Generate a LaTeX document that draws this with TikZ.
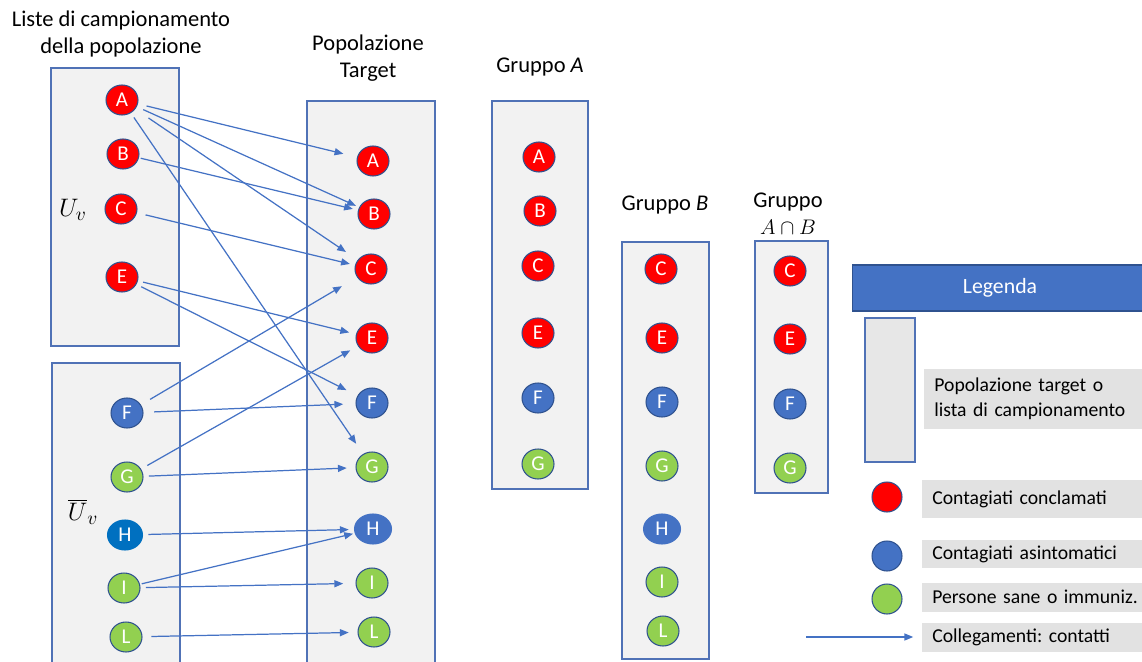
\documentclass[tikz,border=0pt]{standalone}
\usepackage{fontspec}
\setmainfont{Carlito}
\frenchspacing
\usetikzlibrary{shapes.geometric,arrows.meta}
\definecolor{boxline}{RGB}{80,114,182}
\definecolor{boxgrey}{RGB}{242,242,242}
\definecolor{nodeline}{RGB}{47,82,143}
\definecolor{asblue}{RGB}{68,114,196}
\definecolor{hblue}{RGB}{0,112,192}
\definecolor{sgreen}{RGB}{146,208,80}
\definecolor{legrey}{RGB}{226,226,226}
\definecolor{rectgrey}{RGB}{231,231,231}
\tikzset{
    pers/.style={ellipse, draw=nodeline, line width=0.6pt, minimum width=0.64cm, minimum height=0.6cm,
        inner sep=0pt, text=white, font=\fontsize{12}{14}\selectfont},
    conf/.style={pers, fill=red},
    asint/.style={pers, fill=asblue},
    sano/.style={pers, fill=sgreen},
    lista/.style={draw=boxline, fill=boxgrey, line width=0.75pt},
    link/.style={draw=asblue, line width=0.7pt, -{Triangle[length=5pt,width=4pt]}, shorten <=3pt, shorten >=4pt},
    titolo/.style={align=center, font=\fontsize{12.8}{15.3}\selectfont},
    voce/.style={fill=legrey, anchor=west, inner xsep=0.2cm, text width=4.6cm, align=left,
        font=\fontsize{11.2}{14}\selectfont}
}
\begin{document}
\begin{tikzpicture}[x=0.02cm, y=-0.02cm]
                \useasboundingbox (0,0) rectangle (1142,662);
                \clip (0,0) rectangle (1142,662);
                \draw[lista] (51,68) rectangle (179,346);
                \draw[lista] (52,363) rectangle (180,690);
                \draw[lista] (307,101) rectangle (435,690);
                \draw[lista] (492,101) rectangle (588,489);
                \draw[lista] (622,242) rectangle (709,659);
                \draw[lista] (755,241) rectangle (828,493);
                \node[titolo] (tLista) at (121,34) {Liste di campionamento\\della popolazione};
                \node[titolo] (tTarget) at (368,58) {Popolazione\\Target};
                \node[titolo] (tGrA) at (540,67) {Gruppo \textit{A}};
                \node[titolo] (tGrB) at (665,205) {Gruppo \textit{B}};
                \node[titolo] (tGrAB) at (788,214) {Gruppo\\$A\cap B$};
                \node[titolo, font=\fontsize{15}{18}\selectfont] (Uv) at (73,210) {$U_v$};
                \node[titolo, font=\fontsize{15}{18}\selectfont] (Unv) at (83,512) {$\overline{U}_v$};
                \node[conf] (sA) at (122,100) {A};
                \node[conf] (sB) at (123,154) {B};
                \node[conf] (sC) at (121,209) {C};
                \node[conf] (sE) at (122,277) {E};
                \node[asint] (sF) at (127,413) {F};
                \node[sano] (sG) at (127,477) {G};
                \node[pers, fill=hblue, draw=hblue, minimum width=0.7cm] (sH) at (125,535) {H};
                \node[sano] (sI) at (124,588) {I};
                \node[sano] (sL) at (126,637) {L};
                \node[conf] (tA) at (373,161) {A};
                \node[conf] (tB) at (374,214) {B};
                \node[conf] (tC) at (371,269) {C};
                \node[conf] (tE) at (372,338) {E};
                \node[asint] (tF) at (372,403) {F};
                \node[sano] (tG) at (372,467) {G};
                \node[asint, draw=asblue, minimum width=0.74cm] (tH) at (373,529) {H};
                \node[sano] (tI) at (372,583) {I};
                \node[sano] (tL) at (374,632) {L};
                \node[conf] (aA) at (539,157) {A};
                \node[conf] (aB) at (540,211) {B};
                \node[conf] (aC) at (538,266) {C};
                \node[conf] (aE) at (538,333) {E};
                \node[asint] (aF) at (538,398) {F};
                \node[sano] (aG) at (538,464) {G};
                \node[conf] (bC) at (661,269) {C};
                \node[conf] (bE) at (662,338) {E};
                \node[asint] (bF) at (662,402) {F};
                \node[sano] (bG) at (662,466) {G};
                \node[asint, draw=asblue, minimum width=0.74cm] (bH) at (662,529) {H};
                \node[sano] (bI) at (662,582) {I};
                \node[sano] (bL) at (663,631) {L};
                \node[conf] (abC) at (790,271) {C};
                \node[conf] (abE) at (790,339) {E};
                \node[asint] (abF) at (790,404) {F};
                \node[sano] (abG) at (790,468) {G};
                \draw[link, shorten <=5pt, shorten >=8pt] (sA) -- (tA);
                \draw[link, shorten <=4pt, shorten >=2pt] (sA) -- (tB);
                \draw[link, shorten <=9pt, shorten >=8pt] (sA) -- (tC);
                \draw[link, shorten >=7pt] (sA) -- (tG);
                \draw[link, shorten <=1pt, shorten >=3pt] (sB) -- (tB);
                \draw[link, shorten <=5pt, shorten >=3pt] (sC) -- (tC);
                \draw[link] (sE) -- (tE);
                \draw[link, shorten >=7pt] (sE) -- (tF);
                \draw[link, shorten <=6pt, shorten >=10pt] (sF) -- (tC);
                \draw[link, shorten <=6pt, shorten >=7pt] (sF) -- (tF);
                \draw[link, shorten <=4pt, shorten >=5pt] (sG) -- (tE);
                \draw[link, shorten >=5pt] (sG) -- (tG);
                \draw[link, shorten >=3pt] (sH) -- (tH);
                \draw[link, shorten <=1pt, shorten >=1pt] (sI) -- (tH);
                \draw[link, shorten >=7pt] (sI) -- (tI);
                \draw[link, shorten <=5pt, shorten >=5pt] (sL) -- (tL);
                \node[fill=asblue, draw=nodeline, line width=0.6pt, minimum width=5.9cm, minimum height=0.92cm,
                    anchor=west, text=white, font=\fontsize{12.4}{15}\selectfont] (legenda) at (852,288) {Legenda};
                \fill[rectgrey, draw=boxline, line width=0.75pt] (865,318) rectangle (915,462);
                \node[voce, minimum height=1.2cm] (lLista) at (924,399) {Popolazione target o\\lista di campionamento};
                \node[conf, minimum width=0.6cm, minimum height=0.6cm] (lRosso) at (887,497) {};
                \node[voce, minimum height=0.76cm] (lConf) at (922,499) {Contagiati conclamati};
                \node[asint, minimum width=0.6cm, minimum height=0.6cm] (lBlu) at (887,556) {};
                \node[voce, minimum height=0.56cm] (lAsint) at (922,554) {Contagiati asintomatici};
                \node[sano, minimum width=0.6cm, minimum height=0.6cm] (lVerde) at (887,599) {};
                \node[voce, minimum height=0.58cm] (lSani) at (922,597) {Persone sane o immuniz.};
                \node[voce, minimum height=0.58cm] (lLink) at (922,637) {Collegamenti: contatti};
                \coordinate (lFrom) at (806,637);
                \draw[link, shorten <=0pt, shorten >=5pt] (lFrom) -- (lLink.west);
\end{tikzpicture}
\end{document}
